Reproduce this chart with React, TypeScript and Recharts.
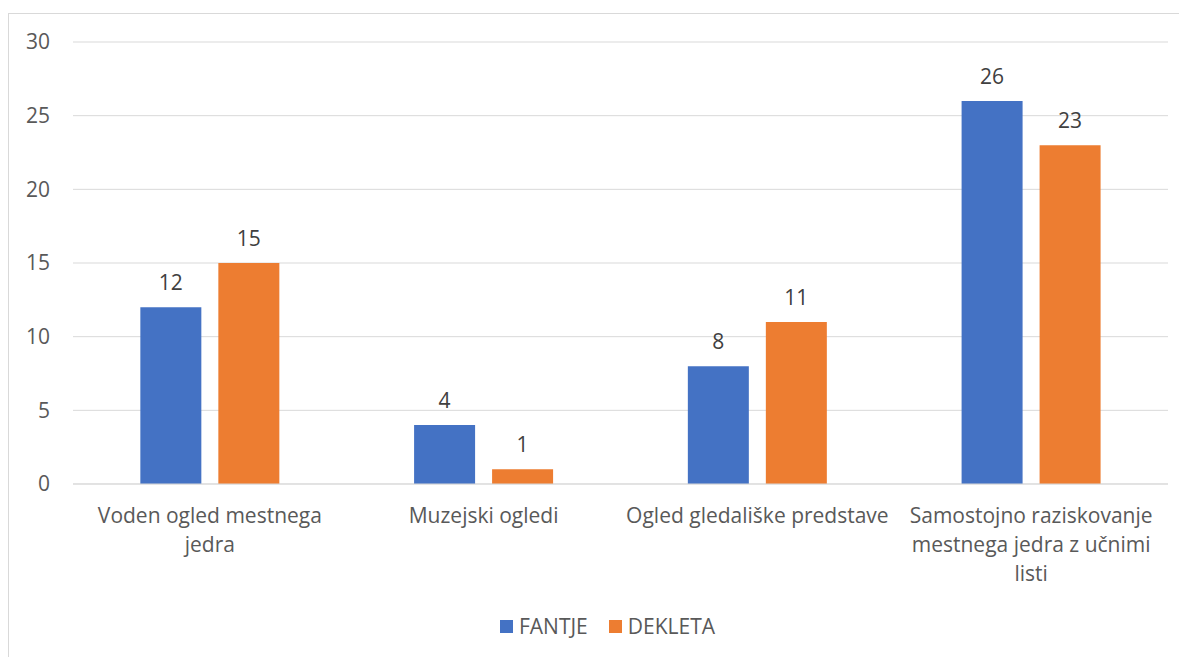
import React from "react";
import { BarChart, Bar, XAxis, YAxis, CartesianGrid, Legend, LabelList } from "recharts";

const categories = [
  "Voden ogled mestnega\njedra",
  "Muzejski ogledi",
  "Ogled gledališke predstave",
  "Samostojno raziskovanje\nmestnega jedra z učnimi\nlisti",
];
const fantje = [12, 4, 8, 26];
const dekleta = [15, 1, 11, 23];
const yTicks = [0, 5, 10, 15, 20, 25, 30];
const seriesOrder = ["FANTJE", "DEKLETA"];

const data = categories.map((c, i) => ({ name: c, fantje: fantje[i], dekleta: dekleta[i] }));

const FONT = "'Open Sans', sans-serif";
const TEXT_COLOR = "#595959";

const XTick = (props: any) => {
  const { x, y, payload } = props;
  const lines: string[] = String(payload.value).split("\n");
  return (
    <g transform={`translate(${x},${y})`}>
      {lines.map((l, i) => (
        <text
          key={i}
          x={0}
          y={i * 29}
          dy={31}
          textAnchor="middle"
          fill={TEXT_COLOR}
          fontSize={21}
          fontFamily={FONT}
        >
          {l}
        </text>
      ))}
    </g>
  );
};

const LegendContent = (props: any) => {
  const payload = [...(props.payload || [])].sort(
    (a: any, b: any) => seriesOrder.indexOf(a.value) - seriesOrder.indexOf(b.value)
  );
  return (
    <div style={{ display: "flex", justifyContent: "center", alignItems: "center", fontFamily: FONT, fontSize: 21, color: TEXT_COLOR, lineHeight: "26px", paddingLeft: 20 }}>
      {payload.map((p: any, i: number) => (
        <div key={i} style={{ display: "flex", alignItems: "center", marginRight: i === 0 ? 21 : 0 }}>
          <span style={{ display: "inline-block", width: 13, height: 13, background: p.color, marginRight: 6 }} />
          <span>{p.value}</span>
        </div>
      ))}
    </div>
  );
};

export default function App() {
  return (
    <div
      style={{
        marginTop: 5,
        width: 1179,
        height: 660,
        border: "1px solid #d9d9d9",
        background: "#fff",
        boxSizing: "border-box",
        overflow: "hidden",
      }}
    >
      <BarChart
        width={1177}
        height={650}
        data={data}
        margin={{ top: 28, right: 18, bottom: 42, left: 0 }}
        barCategoryGap="24.6%"
        barGap={17}
      >
        <CartesianGrid vertical={false} stroke="#d9d9d9" strokeWidth={1} />
        <XAxis
          dataKey="name"
          axisLine={{ stroke: "#d9d9d9" }}
          tickLine={false}
          interval={0}
          height={112}
          tick={<XTick />}
        />
        <YAxis
          width={64}
          domain={[0, 30]}
          ticks={yTicks}
          axisLine={false}
          tickLine={false}
          tickSize={0}
          tickMargin={23}
          tick={{ fill: TEXT_COLOR, fontSize: 21, fontFamily: FONT }}
        />
        <Legend
          verticalAlign="bottom"
          content={<LegendContent />}
          wrapperStyle={{ top: 599, left: 0, width: 1177 }}
        />
        <Bar dataKey="fantje" name={seriesOrder[0]} fill="#4472C4" isAnimationActive={false}>
          <LabelList dataKey="fantje" position="top" offset={17} fill="#404040" fontSize={21} fontFamily={FONT} />
        </Bar>
        <Bar dataKey="dekleta" name={seriesOrder[1]} fill="#ED7D31" isAnimationActive={false}>
          <LabelList dataKey="dekleta" position="top" offset={17} fill="#404040" fontSize={21} fontFamily={FONT} />
        </Bar>
      </BarChart>
    </div>
  );
}
